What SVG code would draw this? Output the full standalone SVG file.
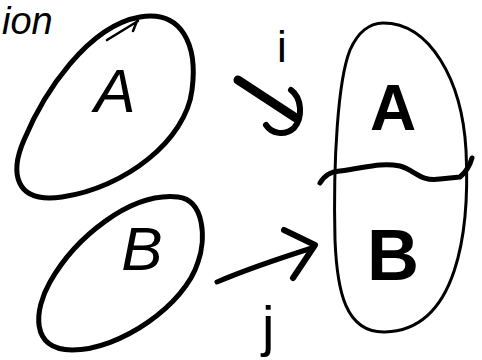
<svg xmlns="http://www.w3.org/2000/svg" width="482" height="360" viewBox="0 0 482 360">
<style>
.s{fill:none;stroke:#000;stroke-width:5;stroke-linecap:round;stroke-linejoin:round}
.t{fill:#000;font-family:"Liberation Sans",Arial,sans-serif}
</style>
<rect width="482" height="360" fill="#fff"/>
<text class="t" x="2" y="34" font-size="38" font-style="italic">ion</text>
<g id="nodeA">
<path class="s" d="M140 17 C182 10,198 45,192 90 C186 140,125 188,62 197 C14 204,10 172,24 140 C44 92,88 26,140 17"/>
<path class="s" style="stroke-width:2.5" d="M107 40 L138 21 M133 31 L137 21"/>
<text class="t" x="115" y="112" font-size="62" text-anchor="middle" font-style="italic">A</text>
</g>
<g id="nodeB">
<path class="s" d="M178 197 C205 200,206 240,198 262 C185 305,120 350,72 350 C30 350,34 310,50 282 C75 238,130 192,178 197"/>
<text class="t" x="142" y="270" font-size="62" text-anchor="middle" font-style="italic">B</text>
</g>
<g id="nodeAB">
<path class="s" style="stroke-width:3" d="M383 23 C430 23,462 80,466 150 C470 230,458 330,385 332 C345 333,337 290,335 240 C333 160,338 80,350 50 C358 32,370 23,383 23"/>
<path class="s" d="M320 183 C325 175,330 172,340 171 C365 168,380 162,400 166 C415 170,420 182,440 179 L460 177 C466 172,470 165,472 158"/>
<text class="t" x="393" y="130" font-size="64" font-weight="bold" text-anchor="middle">A</text>
<text class="t" x="393" y="280" font-size="72" font-weight="bold" text-anchor="middle">B</text>
</g>
<g id="connectors">
<path class="s" style="stroke-width:9" d="M238 80 L296 118"/>
<path class="s" style="stroke-width:6" d="M291 90 C302 98,303 118,294 128 C285 136,272 134,266 125"/>
<text class="t" x="277" y="62" font-size="44">i</text>
<path class="s" d="M217 282 C245 270,268 262,312 248"/>
<path class="s" style="stroke-width:6" d="M284 230 L315 245 L293 278"/>
<text class="t" x="262" y="345" font-size="56">j</text>
</g>
</svg>
